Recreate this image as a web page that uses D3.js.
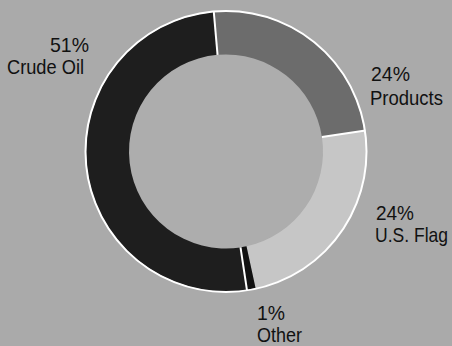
<!DOCTYPE html>
<html>
<head>
<meta charset="utf-8">
<script src="https://cdn.jsdelivr.net/npm/d3@7"></script>
<style>
html,body{margin:0;padding:0;background:#aaaaaa;}
svg{display:block;}
text{font-family:"Liberation Sans",Arial,Roboto,sans-serif;fill:#111;}
</style>
</head>
<body>
<svg id="chart" width="452" height="346"></svg>
<script>
const categories = ["Products", "U.S. Flag", "Other", "Crude Oil"];
const values = [24, 24, 1, 51];
const pctLabels = ["24%", "24%", "1%", "51%"];
const colors = ["#6c6c6c", "#c6c6c6", "#111111", "#1e1e1e"];

const W = 452, H = 346;
const cx = 226, cy = 151.5, rOut = 140, rIn = 97;
const start = -5 * Math.PI / 180;

const svg = d3.select("#chart");
svg.append("rect").attr("width", W).attr("height", H).attr("fill", "#aaaaaa");

const g = svg.append("g").attr("transform", `translate(${cx},${cy})`);
g.append("circle").attr("r", rIn).attr("fill", "#adadad");

const pie = d3.pie().sort(null).startAngle(start).endAngle(start + 2 * Math.PI);
const arcs = pie(values);
const arc = d3.arc().innerRadius(rIn).outerRadius(rOut);

g.selectAll("path.slice").data(arcs).join("path")
  .attr("class", "slice")
  .attr("d", arc)
  .attr("fill", (d, i) => colors[i]);

// white separators
const seps = arcs.filter((d, i) => i !== 2).map(d => d.startAngle);
g.selectAll("line.sep").data(seps).join("line")
  .attr("class", "sep")
  .attr("x1", a => rIn * Math.sin(a)).attr("y1", a => -rIn * Math.cos(a))
  .attr("x2", a => (rOut + 1) * Math.sin(a)).attr("y2", a => -(rOut + 1) * Math.cos(a))
  .attr("stroke", "#fff").attr("stroke-width", 2);

g.append("circle").attr("r", rOut + 0.5).attr("fill", "none")
  .attr("stroke", "#fff").attr("stroke-width", 2);

// labels (condensed look via textLength)
const labelPos = [
  {px: 371, pw: 39, y1: 81, nx: 370, nw: 73, y2: 105},
  {px: 376, pw: 38, y1: 220, nx: 375, nw: 73, y2: 242},
  {px: 257, pw: 28, y1: 320, nx: 257, nw: 45, y2: 342},
  {px: 50, pw: 39, y1: 52, nx: 7, nw: 77, y2: 74}
];
const lab = svg.append("g");
labelPos.forEach((p, i) => {
  lab.append("text").attr("x", p.px).attr("y", p.y1)
    .attr("font-size", 21).attr("textLength", p.pw).attr("lengthAdjust", "spacingAndGlyphs")
    .text(pctLabels[i]);
  lab.append("text").attr("x", p.nx).attr("y", p.y2)
    .attr("font-size", 21).attr("textLength", p.nw).attr("lengthAdjust", "spacingAndGlyphs")
    .text(categories[i]);
});
</script>
</body>
</html>
